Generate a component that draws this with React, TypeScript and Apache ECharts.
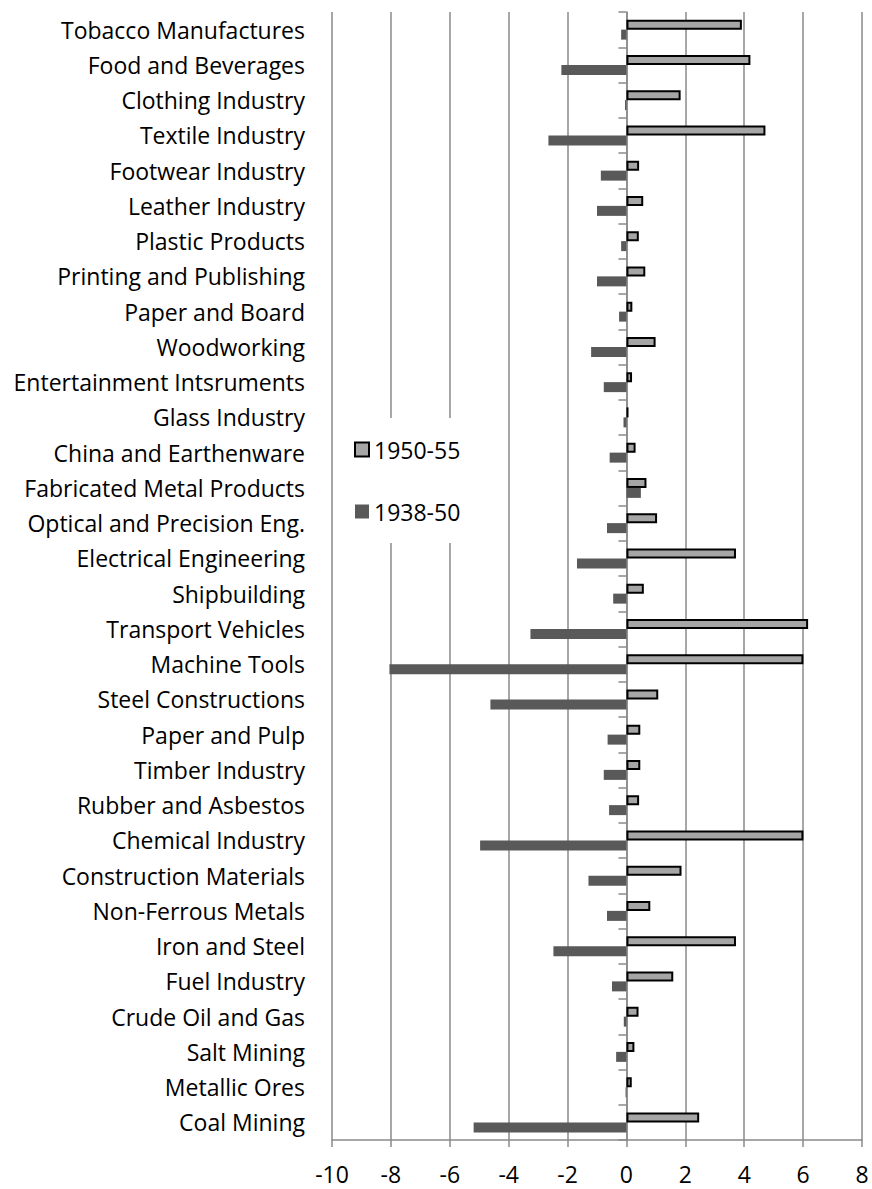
import React, { useEffect, useRef } from "react";
import * as echarts from "echarts";

const categories = [
  "Tobacco Manufactures",
  "Food and Beverages",
  "Clothing Industry",
  "Textile Industry",
  "Footwear Industry",
  "Leather Industry",
  "Plastic Products",
  "Printing and Publishing",
  "Paper and Board",
  "Woodworking",
  "Entertainment Intsruments",
  "Glass Industry",
  "China and Earthenware",
  "Fabricated Metal Products",
  "Optical and Precision Eng.",
  "Electrical Engineering",
  "Shipbuilding",
  "Transport Vehicles",
  "Machine Tools",
  "Steel Constructions",
  "Paper and Pulp",
  "Timber Industry",
  "Rubber and Asbestos",
  "Chemical Industry",
  "Construction Materials",
  "Non-Ferrous Metals",
  "Iron and Steel",
  "Fuel Industry",
  "Crude Oil and Gas",
  "Salt Mining",
  "Metallic Ores",
  "Coal Mining",
];

const values1950_55 = [
  3.92, 4.21, 1.84, 4.72, 0.43, 0.57, 0.42, 0.64, 0.2, 0.99, 0.19, 0.07, 0.31,
  0.68, 1.04, 3.72, 0.59, 6.17, 6.01, 1.08, 0.47, 0.47, 0.43, 6.01, 1.87, 0.81,
  3.72, 1.59, 0.41, 0.27, 0.18, 2.47,
];

const values1938_50 = [
  -0.18, -2.21, -0.05, -2.65, -0.87, -1.0, -0.18, -1.0, -0.25, -1.2, -0.77,
  -0.1, -0.57, 0.49, -0.66, -1.68, -0.45, -3.26, -8.05, -4.62, -0.64, -0.77,
  -0.59, -4.97, -1.29, -0.66, -2.48, -0.49, -0.09, -0.35, -0.03, -5.19,
];

const xMin = -10;
const xMax = 8;
const xInterval = 2;

const FONT = "Open Sans";
const GRID_COLOR = "#8a8a8a";

export default function App() {
  const ref = useRef<HTMLDivElement>(null);

  useEffect(() => {
    if (!ref.current) return;
    const chart = echarts.init(ref.current, null, { renderer: "svg" });
    chart.setOption({
      animation: false,
      backgroundColor: "#ffffff",
      textStyle: { fontFamily: FONT },
      grid: { left: 332, right: 10, top: 12, bottom: 49, containLabel: false },
      legend: {
        orient: "vertical",
        left: 340,
        top: 418,
        padding: [20, 14, 20, 14],
        backgroundColor: "#ffffff",
        itemWidth: 14,
        itemHeight: 14,
        itemGap: 39,
        icon: "rect",
        data: ["1950-55", "1938-50"],
        textStyle: {
          fontFamily: FONT,
          fontSize: 23,
          lineHeight: 20,
          color: "#000000",
        },
        z: 10,
      },
      xAxis: {
        type: "value",
        min: xMin,
        max: xMax,
        interval: xInterval,
        axisLine: { show: true, onZero: false, lineStyle: { color: GRID_COLOR, width: 1.5 } },
        axisTick: { show: true, length: 7, lineStyle: { color: GRID_COLOR, width: 1.5 } },
        axisLabel: {
          fontFamily: FONT,
          fontSize: 23,
          color: "#000000",
          margin: 22,
        },
        splitLine: { show: true, lineStyle: { color: GRID_COLOR, width: 1.5 } },
      },
      yAxis: [
        {
          type: "category",
          data: categories,
          inverse: true,
          position: "left",
          axisLine: { show: false, onZero: false },
          axisTick: { show: false },
          axisLabel: {
            fontFamily: FONT,
            fontSize: 23,
            color: "#000000",
            margin: 27,
          },
        },
        {
          type: "category",
          data: categories,
          inverse: true,
          position: "left",
          axisLine: { show: true, onZero: true, lineStyle: { color: GRID_COLOR, width: 1.5 } },
          axisTick: { show: true, length: 8, lineStyle: { color: GRID_COLOR, width: 1.5 } },
          axisLabel: { show: false },
          splitLine: { show: false },
        },
      ],
      series: [
        {
          name: "1950-55",
          type: "bar",
          data: values1950_55,
          yAxisIndex: 0,
          barWidth: 10,
          barGap: "0%",
          itemStyle: { color: "#a6a6a6", borderColor: "#000000", borderWidth: 2 },
        },
        {
          name: "1938-50",
          type: "bar",
          data: values1938_50,
          yAxisIndex: 0,
          barWidth: 10,
          barGap: "0%",
          itemStyle: { color: "#595959" },
        },
      ],
    });
    return () => chart.dispose();
  }, []);

  return (
    <div
      ref={ref}
      style={{ position: "absolute", left: 0, top: 0, width: 872, height: 1189 }}
    />
  );
}
